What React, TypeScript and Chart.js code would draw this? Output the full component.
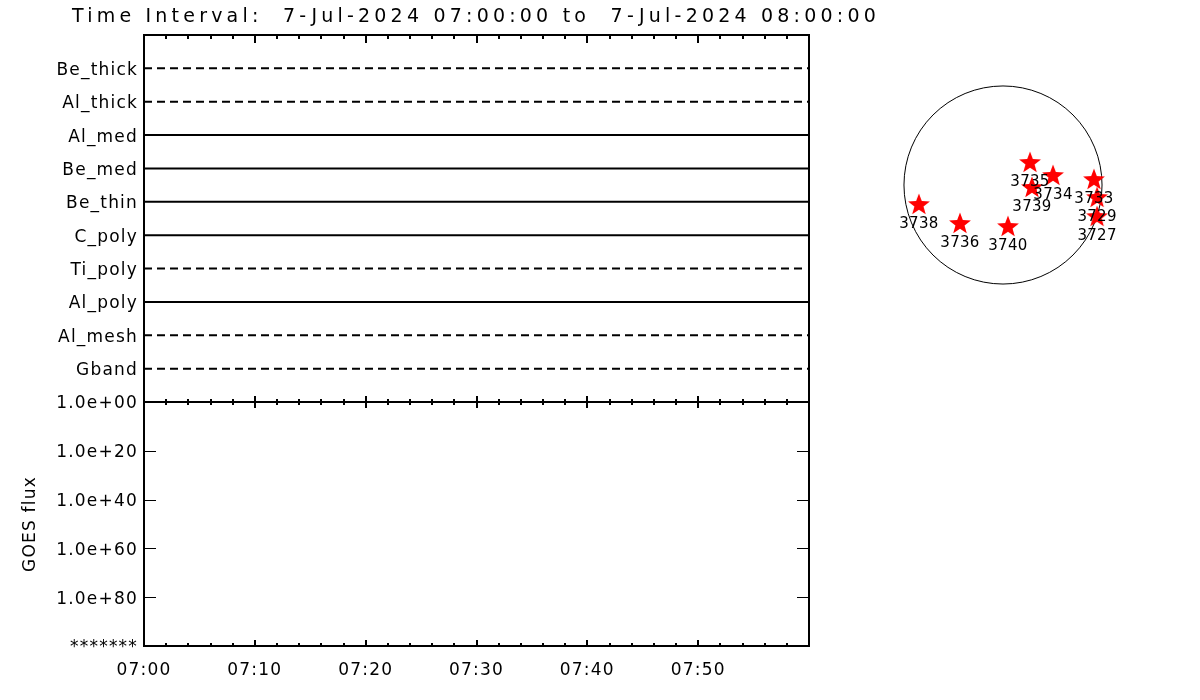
import React, { useEffect, useRef } from 'react';
import Chart from 'chart.js/auto';

const titleText = 'Time Interval:  7-Jul-2024 07:00:00 to  7-Jul-2024 08:00:00';

const filterNames = ['Be_thick', 'Al_thick', 'Al_med', 'Be_med', 'Be_thin', 'C_poly', 'Ti_poly', 'Al_poly', 'Al_mesh', 'Gband'];
const filterDashed = [true, true, false, false, false, false, true, false, true, true];
const filterStartMin = [0, 0, 0, 0, 0, 0, 0, 0, 0, 0];
const filterEndMin = [60, 60, 60, 60, 60, 60, 59.7, 60, 60, 60];

const goesTickValues = [0, 20, 40, 60, 80, 100];
const goesTickLabels = ['1.0e+00', '1.0e+20', '1.0e+40', '1.0e+60', '1.0e+80', '*******'];

const timeTickValues = [0, 10, 20, 30, 40, 50];
const timeTickLabels = ['07:00', '07:10', '07:20', '07:30', '07:40', '07:50'];

const arNames = ['3735', '3734', '3739', '3733', '3729', '3727', '3738', '3736', '3740'];
const arX = [262, 485, 281, 882, 912, 912, -815, -417, 48];
const arY = [223, 97, -19, 58, -116, -301, -184, -368, -398];
const solarRadius = 960;

const FONT = '"DejaVu Sans", sans-serif';
const LS = '1.2px';

function makeStar(): HTMLCanvasElement {
  const c = document.createElement('canvas');
  c.width = 24;
  c.height = 24;
  const g = c.getContext('2d')!;
  g.fillStyle = '#ff0000';
  g.beginPath();
  const R = 11.5, r = 4.8, cx = 12, cy = 13;
  for (let i = 0; i < 10; i++) {
    const ang = -Math.PI / 2 + (i * Math.PI) / 5;
    const rad = i % 2 === 0 ? R : r;
    const px = cx + rad * Math.cos(ang);
    const py = cy + rad * Math.sin(ang);
    if (i === 0) g.moveTo(px, py); else g.lineTo(px, py);
  }
  g.closePath();
  g.fill();
  return c;
}

const spacingPlugin = {
  id: 'spacing',
  beforeDraw(chart: any) {
    (chart.ctx as any).letterSpacing = LS;
  },
};

function drawXTicks(ctx: CanvasRenderingContext2D, x: any, yEdge: number, dir: number, major: number, minor: number) {
  ctx.beginPath();
  for (let m = 0; m <= 60; m += 2) {
    const px = Math.round(x.getPixelForValue(m));
    const len = m % 10 === 0 ? major : minor;
    ctx.moveTo(px, yEdge);
    ctx.lineTo(px, yEdge + dir * len);
  }
  ctx.stroke();
}

const frameTopPlugin = {
  id: 'frameTop',
  afterDraw(chart: any) {
    const { ctx, chartArea: a, scales } = chart;
    const x = scales.x;
    ctx.save();
    (ctx as any).letterSpacing = '0px';
    ctx.strokeStyle = '#000';
    ctx.lineWidth = 2;
    ctx.strokeRect(a.left, a.top, a.right - a.left, a.bottom - a.top);
    drawXTicks(ctx, x, a.top, 1, 8, 4);
    drawXTicks(ctx, x, a.bottom, -1, 6, 3);
    // title
    ctx.fillStyle = '#000';
    ctx.font = '19px ' + FONT;
    ctx.textBaseline = 'alphabetic';
    ctx.textAlign = 'left';
    const w = ctx.measureText(titleText).width;
    const ls = (808 - w) / titleText.length;
    (ctx as any).letterSpacing = ls + 'px';
    ctx.fillText(titleText, 72, 22);
    ctx.restore();
  },
};

const frameBottomPlugin = {
  id: 'frameBottom',
  afterDraw(chart: any) {
    const { ctx, chartArea: a, scales } = chart;
    const x = scales.x;
    const y = scales.y;
    ctx.save();
    ctx.strokeStyle = '#000';
    ctx.lineWidth = 2;
    ctx.strokeRect(a.left, a.top, a.right - a.left, a.bottom - a.top);
    drawXTicks(ctx, x, a.top, 1, 6, 3);
    drawXTicks(ctx, x, a.bottom, -1, 6, 3);
    ctx.lineWidth = 1;
    ctx.beginPath();
    for (const v of goesTickValues) {
      if (v === 0 || v === 100) continue;
      const py = Math.round(y.getPixelForValue(v)) + 0.5;
      ctx.moveTo(a.left, py);
      ctx.lineTo(a.left + 12, py);
      ctx.moveTo(a.right, py);
      ctx.lineTo(a.right - 12, py);
    }
    ctx.stroke();
    ctx.restore();
  },
};

const diskPlugin = {
  id: 'disk',
  beforeDatasetsDraw(chart: any) {
    const { ctx, scales } = chart;
    const cx = scales.x.getPixelForValue(0);
    const cy = scales.y.getPixelForValue(0);
    const r = scales.x.getPixelForValue(solarRadius) - cx;
    ctx.save();
    ctx.strokeStyle = '#000';
    ctx.lineWidth = 1;
    ctx.beginPath();
    ctx.arc(cx, cy, r, 0, Math.PI * 2);
    ctx.stroke();
    ctx.restore();
  },
  afterDatasetsDraw(chart: any) {
    const { ctx } = chart;
    const meta = chart.getDatasetMeta(0);
    ctx.save();
    ctx.fillStyle = '#000';
    ctx.font = '15px ' + FONT;
    (ctx as any).letterSpacing = '0.3px';
    ctx.textAlign = 'center';
    ctx.textBaseline = 'middle';
    meta.data.forEach((pt: any, i: number) => {
      ctx.fillText(arNames[i], pt.x, pt.y + 20);
    });
    ctx.restore();
  },
};

export default function App() {
  const topRef = useRef<HTMLCanvasElement>(null);
  const botRef = useRef<HTMLCanvasElement>(null);
  const diskRef = useRef<HTMLCanvasElement>(null);

  useEffect(() => {
    const axisFont = { family: FONT, size: 17 };

    const topChart = new Chart(topRef.current!, {
      type: 'line',
      data: {
        datasets: filterNames.map((name, i) => ({
          label: name,
          data: [
            { x: filterStartMin[i], y: i + 1 },
            { x: filterEndMin[i], y: i + 1 },
          ],
          borderColor: '#000',
          borderWidth: 2,
          borderDash: filterDashed[i] ? [8, 5] : [],
          pointRadius: 0,
          fill: false,
        })),
      },
      options: {
        animation: false,
        responsive: false,
        devicePixelRatio: 1,
        layout: { padding: { left: 0, right: 391, top: 35, bottom: 298 } },
        plugins: { legend: { display: false }, tooltip: { enabled: false } },
        scales: {
          x: { type: 'linear', min: 0, max: 60, display: false },
          y: {
            type: 'linear',
            min: 0,
            max: 11,
            reverse: true,
            grid: { display: false, drawTicks: false },
            border: { display: false },
            afterFit: (axis: any) => { axis.width = 144; },
            afterBuildTicks: (axis: any) => {
              axis.ticks = filterNames.map((_, i) => ({ value: i + 1 }));
            },
            ticks: {
              padding: 6,
              labelOffset: 2,
              color: '#000',
              font: axisFont,
              autoSkip: false,
              callback: (v: any) => filterNames[Number(v) - 1] ?? '',
            },
          },
        },
      } as any,
      plugins: [spacingPlugin, frameTopPlugin],
    });

    const botChart = new Chart(botRef.current!, {
      type: 'line',
      data: { datasets: [] },
      options: {
        animation: false,
        responsive: false,
        devicePixelRatio: 1,
        layout: { padding: { left: 0, right: 391, top: 402, bottom: 14 } },
        plugins: { legend: { display: false }, tooltip: { enabled: false } },
        scales: {
          x: {
            type: 'linear',
            min: 0,
            max: 60,
            grid: { display: false, drawTicks: false },
            border: { display: false },
            afterFit: (axis: any) => { axis.height = 40; },
            afterBuildTicks: (axis: any) => {
              axis.ticks = timeTickValues.map((v) => ({ value: v }));
            },
            ticks: {
              padding: 14,
              color: '#000',
              font: axisFont,
              autoSkip: false,
              maxRotation: 0,
              callback: (v: any) => timeTickLabels[timeTickValues.indexOf(Number(v))] ?? '',
            },
          },
          y: {
            type: 'linear',
            min: 0,
            max: 100,
            reverse: true,
            grid: { display: false, drawTicks: false },
            border: { display: false },
            afterFit: (axis: any) => { axis.width = 144; },
            afterBuildTicks: (axis: any) => {
              axis.ticks = goesTickValues.map((v) => ({ value: v }));
            },
            title: {
              display: true,
              text: 'GOES flux',
              color: '#000',
              font: axisFont,
              padding: { top: 20, bottom: 0 },
            },
            ticks: {
              padding: 6,
              labelOffset: 2,
              color: '#000',
              font: axisFont,
              autoSkip: false,
              callback: (v: any) => goesTickLabels[goesTickValues.indexOf(Number(v))] ?? '',
            },
          },
        },
      } as any,
      plugins: [spacingPlugin, frameBottomPlugin],
    });

    const star = makeStar();
    const diskChart = new Chart(diskRef.current!, {
      type: 'scatter',
      data: {
        datasets: [
          {
            label: 'AR',
            data: arX.map((x, i) => ({ x, y: arY[i] })),
            pointStyle: star as any,
            pointRadius: 11,
            clip: false as any,
          },
        ],
      },
      options: {
        animation: false,
        responsive: false,
        devicePixelRatio: 1,
        layout: { padding: { left: 879, right: 73, top: 61, bottom: 391 } },
        plugins: { legend: { display: false }, tooltip: { enabled: false } },
        scales: {
          x: { type: 'linear', min: -1202, max: 1202, display: false },
          y: { type: 'linear', min: -1202, max: 1202, display: false },
        },
      } as any,
      plugins: [diskPlugin],
    });

    return () => {
      topChart.destroy();
      botChart.destroy();
      diskChart.destroy();
    };
  }, []);

  const cStyle: React.CSSProperties = { position: 'absolute', left: 0, top: 0, width: 1200, height: 700 };
  return (
    <div style={{ position: 'fixed', left: 0, top: 0, width: 1200, height: 700, background: '#fff' }}>
      <canvas ref={topRef} width={1200} height={700} style={cStyle} />
      <canvas ref={botRef} width={1200} height={700} style={cStyle} />
      <canvas ref={diskRef} width={1200} height={700} style={cStyle} />
    </div>
  );
}
